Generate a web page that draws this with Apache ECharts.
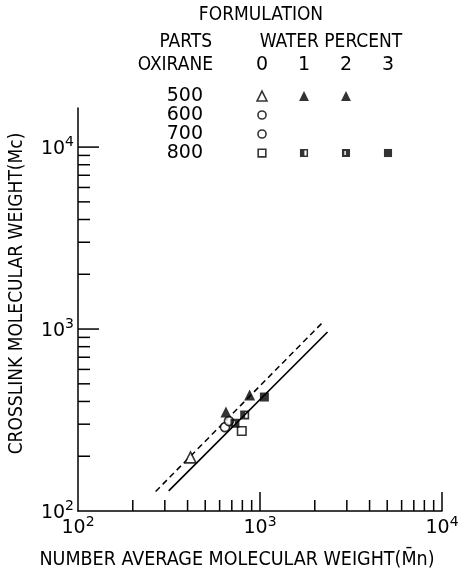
<!DOCTYPE html>
<html>
<head>
<meta charset="utf-8">
<script src="https://cdn.jsdelivr.net/npm/echarts@6.0.0/dist/echarts.min.js"></script>
<style>
    html, body { margin: 0; padding: 0; background: #fff; }
    #chart { width: 463px; height: 576px; }
</style>
</head>
<body>
<div id="chart"></div>
<script>
    // legend table: columns and rows
    var waterPercent = ['0', '1', '2', '3'];
    var oxiraneParts = ['500', '600', '700', '800'];

    // one entry per formulation
    var pointParts = ['500', '500', '500', '600', '700', '800', '800', '800', '800'];
    var pointWater = ['0', '1', '2', '0', '0', '0', '1', '2', '3'];
    var mnValues = [415, 877, 650, 642, 675, 794, 824, 728, 1057];
    var mcValues = [197, 434, 350, 289, 312, 275, 337, 304, 423];

    // fitted lines (end points)
    var solidFit = [[315, 129], [2350, 964]];
    var dashedFit = [[267, 128], [2200, 1083]];

    // axis ticks
    var decadeTicks = [1000, 10000];
    var minorTicks = [200, 300, 400, 500, 600, 700, 800, 900, 2000, 3000, 4000, 5000, 6000, 7000, 8000, 9000];

    var AXIS_MIN = 100, X_MAX = 10000, Y_MAX = 16400;
    var WORD_FONT = "'DejaVu Sans Condensed', 'Liberation Sans Narrow', 'DejaVu Sans', sans-serif";
    var NUM_FONT = "'DejaVu Sans', sans-serif";

    var SQUARE_HALF = 'path://M0 0H10V10H0Z M5.5 2V8H8.2V2Z';
    var SQUARE_SLIT = 'path://M0 0H10V10H0Z M3 2.5V7.5H4.8V2.5Z';

    function symbolOf(parts, water, small) {
        var hollow = {color: '#fff', borderColor: '#000', borderWidth: 1.6};
        var solid = {color: '#000', borderWidth: 0};
        var s = small ? 0.9 : 1;
        if (parts === '500')
            return {symbol: 'triangle', symbolSize: 11 * s, itemStyle: water === '0' ? hollow : solid};
        if (parts === '800') {
            if (water === '0') return {symbol: 'rect', symbolSize: 8.5 * s, itemStyle: hollow};
            if (water === '1') return {symbol: SQUARE_HALF, symbolSize: 9 * s, itemStyle: solid};
            if (water === '2') return {symbol: SQUARE_SLIT, symbolSize: 9 * s, itemStyle: solid};
            return {symbol: 'rect', symbolSize: 9 * s, itemStyle: solid};
        }
        return {symbol: 'circle', symbolSize: 9 * s, itemStyle: hollow};
    }

    var plotData = [], legendData = [];
    for (var i = 0; i < mnValues.length; i++) {
        var p = symbolOf(pointParts[i], pointWater[i], false);
        p.value = [mnValues[i], mcValues[i]];
        plotData.push(p);
        var l = symbolOf(pointParts[i], pointWater[i], true);
        l.value = [pointWater[i], pointParts[i]];
        legendData.push(l);
    }

    // kind: 0 x decade, 1 x minor, 2 y decade, 3 y minor
    var tickData = [];
    decadeTicks.forEach(function (v) {
        tickData.push([v, AXIS_MIN, 0]);
        tickData.push([AXIS_MIN, v, 2]);
    });
    minorTicks.forEach(function (v) {
        tickData.push([v, AXIS_MIN, 1]);
        tickData.push([AXIS_MIN, v, 3]);
    });

    function renderTick(params, api) {
        var kind = api.value(2);
        var pt = api.coord([api.value(0), api.value(1)]);
        var len = [19, 11, 21, 12][kind];
        var shape = kind < 2
            ? {x1: pt[0], y1: pt[1], x2: pt[0], y2: pt[1] - len}
            : {x1: pt[0], y1: pt[1], x2: pt[0] + len, y2: pt[1]};
        return {type: 'line', shape: shape, style: {stroke: '#000', lineWidth: 1.5}};
    }

    function powerLabel(v) {
        var lg = Math.log(v) / Math.LN10;
        var e = Math.round(lg);
        if (Math.abs(lg - e) > 1e-6) return '';
        return '{b|10}{s|' + e + '}';
    }

    var powerRich = {
        b: {fontSize: 19, fontFamily: NUM_FONT, color: '#000', verticalAlign: 'bottom'},
        s: {fontSize: 14, fontFamily: NUM_FONT, color: '#000', verticalAlign: 'top', padding: [0, 0, 9, 0]}
    };

    function headText(text, x, y, align) {
        return {
            type: 'text', x: x, y: y,
            style: {
                text: text, fontSize: 19, fontFamily: WORD_FONT, fill: '#000',
                align: align, verticalAlign: 'middle', textAlign: align, textVerticalAlign: 'middle'
            }
        };
    }

    var chart = echarts.init(document.getElementById('chart'));
    chart.setOption({
        backgroundColor: '#fff',
        animation: false,
        textStyle: {fontFamily: NUM_FONT, color: '#000'},
        graphic: [
            headText('FORMULATION', 261, 15, 'center'),
            headText('PARTS', 212, 42, 'right'),
            headText('WATER PERCENT', 331, 42, 'center'),
            headText('OXIRANE', 213, 65, 'right')
        ],
        grid: [
            {left: 74, right: 21, top: 108, bottom: 65},
            {left: 241, right: 54, top: 86.5, height: 76}
        ],
        xAxis: [{
            type: 'log', logBase: 10, gridIndex: 0, min: AXIS_MIN, max: X_MAX,
            axisLine: {lineStyle: {color: '#000', width: 1.5}},
            axisTick: {show: false}, splitLine: {show: false},
            axisLabel: {formatter: powerLabel, rich: powerRich, margin: 4},
            name: 'NUMBER AVERAGE MOLECULAR WEIGHT(M\u0304n)',
            nameLocation: 'middle', nameGap: 39,
            nameTextStyle: {fontSize: 19.5, fontFamily: WORD_FONT, color: '#000', padding: [0, 46, 0, 0]}
        }, {
            type: 'category', gridIndex: 1, data: waterPercent, position: 'top',
            axisLine: {show: false}, axisTick: {show: false}, splitLine: {show: false},
            axisLabel: {interval: 0, fontSize: 19, fontFamily: NUM_FONT, color: '#000', margin: 12}
        }],
        yAxis: [{
            type: 'log', logBase: 10, gridIndex: 0, min: AXIS_MIN, max: Y_MAX,
            axisLine: {lineStyle: {color: '#000', width: 1.5}},
            axisTick: {show: false}, splitLine: {show: false},
            axisLabel: {formatter: powerLabel, rich: powerRich, margin: 4},
            name: 'CROSSLINK MOLECULAR WEIGHT(Mc)',
            nameLocation: 'middle', nameGap: 51, nameRotate: 90,
            nameTextStyle: {fontSize: 19, fontFamily: WORD_FONT, color: '#000', padding: [0, 0, 0, 32]}
        }, {
            type: 'category', gridIndex: 1, data: oxiraneParts, inverse: true,
            axisLine: {show: false}, axisTick: {show: false}, splitLine: {show: false},
            axisLabel: {interval: 0, fontSize: 19, fontFamily: NUM_FONT, color: '#000', margin: 38}
        }],
        series: [{
            type: 'custom', xAxisIndex: 0, yAxisIndex: 0, data: tickData,
            renderItem: renderTick, encode: {x: 0, y: 1}, clip: false, silent: true
        }, {
            type: 'line', xAxisIndex: 0, yAxisIndex: 0, data: solidFit, showSymbol: false,
            lineStyle: {color: '#000', width: 1.6}, silent: true
        }, {
            type: 'line', xAxisIndex: 0, yAxisIndex: 0, data: dashedFit, showSymbol: false,
            lineStyle: {color: '#000', width: 1.5, type: [6, 4]}, silent: true
        }, {
            type: 'scatter', xAxisIndex: 0, yAxisIndex: 0, data: plotData, z: 5
        }, {
            type: 'scatter', xAxisIndex: 1, yAxisIndex: 1, data: legendData, z: 5
        }]
    });
</script>
</body>
</html>
